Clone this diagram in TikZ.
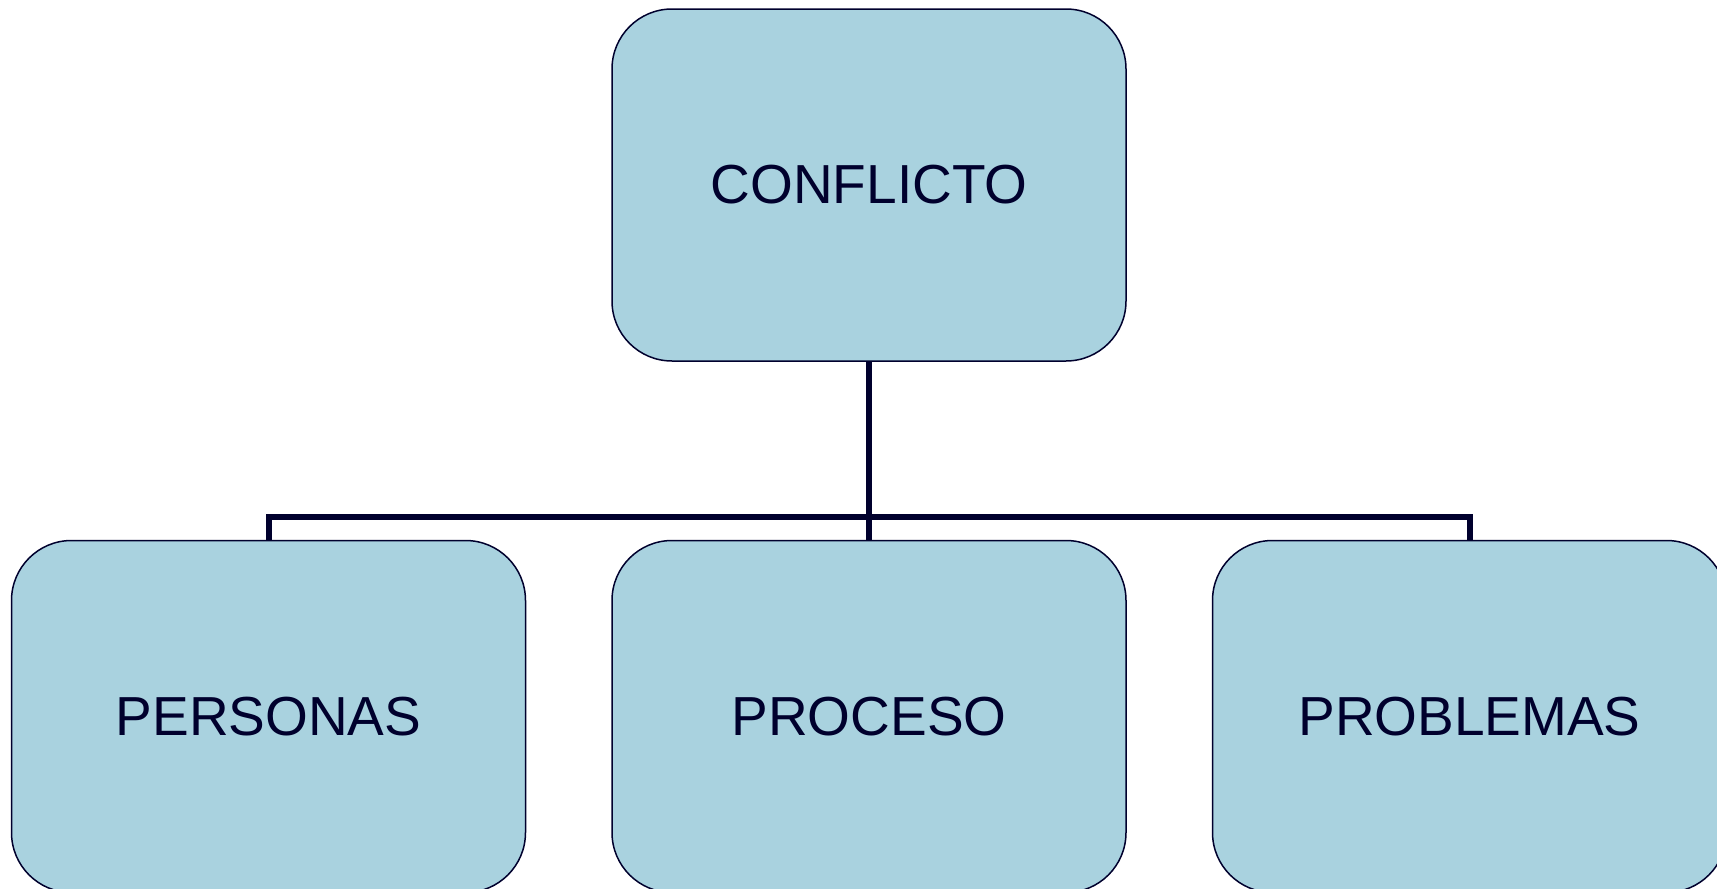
\documentclass[tikz,border=0pt]{standalone}
\usepackage{fontspec}
\setmainfont{Liberation Sans}
\usetikzlibrary{positioning}
\usepackage{xcolor}
\definecolor{boxblue}{RGB}{169, 210, 223}
\definecolor{navy}{RGB}{0, 0, 45}

\tikzset{
    topic/.style={
        rectangle,
        rounded corners=60pt,
        draw=navy,
        line width=1.5pt,
        fill=boxblue,
        text=navy,
        minimum width=514pt,
        minimum height=352pt,
        inner sep=0pt,
        font=\fontsize{55}{60}\selectfont
    },
    link/.style={draw=navy, line width=6pt}
}

\begin{document}
\begin{tikzpicture}[x=1pt, y=-1pt, node distance=85pt]
        \useasboundingbox (0,0) rectangle (1717,889);

        \node (conflicto) [topic] at (869,185) {CONFLICTO};

        \node (proceso) [
            topic,
            below=178pt of conflicto
        ]
        {PROCESO};

        \node (personas) [
            topic,
            left=of proceso
        ]
        {PERSONAS};

        \node (problemas) [
            topic,
            right=of proceso
        ]
        {PROBLEMAS};

        \draw[link] (conflicto.south) -- (proceso.north);
        \draw[link] (personas.north) -- ++(0,-23) -| (problemas.north);
    \end{tikzpicture}
\end{document}
